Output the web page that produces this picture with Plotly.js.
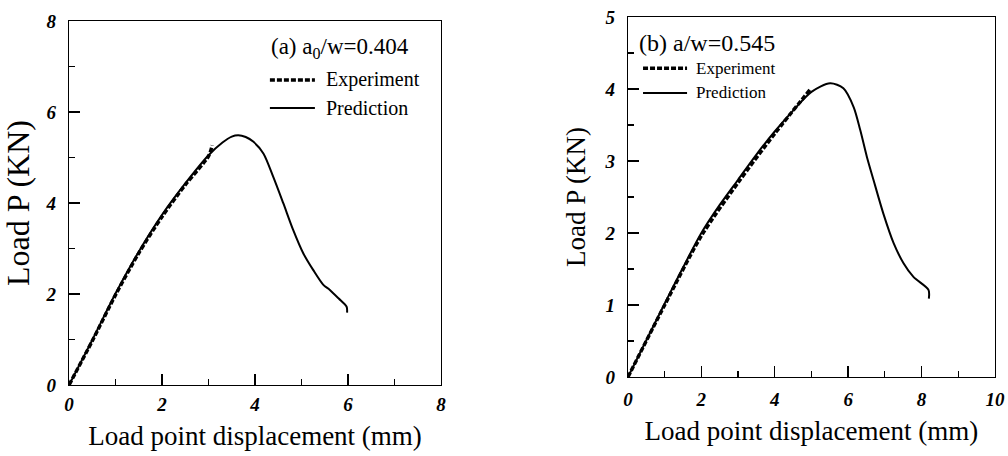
<!DOCTYPE html>
<html>
<head>
<meta charset="utf-8">
<script src="https://cdn.plot.ly/plotly-3.0.1.min.js"></script>
<style>html,body{margin:0;padding:0;background:#fff;}#chart{width:1008px;height:456px;}</style>
</head>
<body>
<div id="chart"></div>
<script>
// Panel (a) a0/w = 0.404
const predA_x = [0, 0.5, 1.0, 1.5, 2.0, 2.5, 3.0, 3.3, 3.5, 3.64, 3.8, 3.96, 4.18, 4.39, 4.61, 4.82, 5.04, 5.25, 5.47, 5.61, 5.8, 5.97, 5.98];
const predA_y = [0, 0.99, 2.01, 2.93, 3.74, 4.43, 5.05, 5.33, 5.46, 5.49, 5.45, 5.35, 5.09, 4.58, 3.99, 3.41, 2.89, 2.53, 2.20, 2.09, 1.90, 1.72, 1.59];
const expA_x = [0, 0.5, 1.0, 1.5, 2.0, 2.5, 3.0, 3.08];
const expA_y = [0, 0.97, 1.98, 2.90, 3.70, 4.40, 5.03, 5.27];

// Panel (b) a/w = 0.545
const predB_x = [0, 0.5, 1.0, 1.5, 2.0, 2.5, 3.0, 3.5, 4.0, 4.5, 5.0, 5.51, 5.87, 6.15, 6.33, 6.51, 6.69, 6.96, 7.24, 7.51, 7.78, 8.19, 8.2];
const predB_y = [0, 0.51, 1.02, 1.52, 2.0, 2.39, 2.74, 3.09, 3.41, 3.70, 3.96, 4.08, 4.01, 3.75, 3.43, 3.06, 2.74, 2.27, 1.86, 1.58, 1.39, 1.21, 1.09];
const expB_x = [0, 1.0, 2.0, 3.0, 4.0, 4.96];
const expB_y = [0, 1.0, 1.96, 2.70, 3.38, 3.99];

const xTitle = 'Load point displacement (mm)';
const yTitle = 'Load P (KN)';
const labelA = '(a) a<sub>0</sub>/w=0.404';
const labelB = '(b) a/w=0.545';
const legendNames = ['Experiment', 'Prediction'];

const serif = 'Liberation Serif, Times New Roman, serif';
const tickFont = {family: serif, size: 19, color: '#000', weight: 'bold', style: 'italic'};

const predLine = {color: '#000', width: 2, shape: 'spline', smoothing: 0.8};
const expLine = {color: '#000', width: 3.5, dash: '5px,2px', shape: 'spline', smoothing: 0.8};

const traces = [
  {x: predA_x, y: predA_y, xaxis: 'x', yaxis: 'y', mode: 'lines', line: predLine, showlegend: false},
  {x: expA_x, y: expA_y, xaxis: 'x', yaxis: 'y', mode: 'lines', line: expLine, showlegend: false},
  {x: predB_x, y: predB_y, xaxis: 'x2', yaxis: 'y2', mode: 'lines', line: predLine, showlegend: false},
  {x: expB_x, y: expB_y, xaxis: 'x2', yaxis: 'y2', mode: 'lines', line: expLine, showlegend: false}
];

function axis(domain, range, dtick, minorDtick, anchor, title, titleSize, standoff, labelStandoff) {
  return {
    domain: domain, range: range, anchor: anchor,
    showgrid: false, zeroline: false,
    showline: true, mirror: true, linecolor: '#000', linewidth: 1.3,
    ticks: 'inside', ticklen: 11, tickwidth: 1.3, tickcolor: '#000',
    dtick: dtick, tick0: 0,
    minor: {ticks: 'inside', ticklen: 6, tickwidth: 1.2, tickcolor: '#000', dtick: minorDtick, showgrid: false},
    tickfont: tickFont, ticklabelstandoff: labelStandoff,
    title: {text: title, font: {family: serif, size: titleSize, color: '#000'}, standoff: standoff},
    fixedrange: true
  };
}

const layout = {
  width: 1008, height: 456,
  margin: {l: 0, r: 0, t: 0, b: 0},
  paper_bgcolor: '#fff', plot_bgcolor: '#fff',
  showlegend: false,
  xaxis: axis([0.0685, 0.4375], [0, 8], 2, 1, 'y', xTitle, 27, 12, 2),
  yaxis: axis([0.1557, 0.9539], [0, 8], 2, 1, 'x', yTitle, 32, 8, 8),
  xaxis2: axis([0.623, 0.987], [0, 10], 2, 1, 'y2', xTitle, 27, 12, 5),
  yaxis2: axis([0.1732, 0.9627], [0, 5], 1, 0.5, 'x2', yTitle, 27, 11, 8),
  annotations: [
    {xref: 'x domain', yref: 'y domain', x: 0.537, y: 0.926, xanchor: 'left', yanchor: 'middle', text: labelA, showarrow: false, font: {family: serif, size: 23, color: '#000'}},
    {xref: 'x domain', yref: 'y domain', x: 0.685, y: 0.838, xanchor: 'left', yanchor: 'middle', text: legendNames[0], showarrow: false, font: {family: serif, size: 20, color: '#000'}},
    {xref: 'x domain', yref: 'y domain', x: 0.685, y: 0.761, xanchor: 'left', yanchor: 'middle', text: legendNames[1], showarrow: false, font: {family: serif, size: 20, color: '#000'}},
    {xref: 'x2 domain', yref: 'y2 domain', x: 0.024, y: 0.928, xanchor: 'left', yanchor: 'middle', text: labelB, showarrow: false, font: {family: serif, size: 24, color: '#000'}},
    {xref: 'x2 domain', yref: 'y2 domain', x: 0.18, y: 0.858, xanchor: 'left', yanchor: 'middle', text: legendNames[0], showarrow: false, font: {family: serif, size: 17, color: '#000'}},
    {xref: 'x2 domain', yref: 'y2 domain', x: 0.18, y: 0.789, xanchor: 'left', yanchor: 'middle', text: legendNames[1], showarrow: false, font: {family: serif, size: 17, color: '#000'}}
  ],
  shapes: [
    {type: 'line', xref: 'x domain', yref: 'y domain', x0: 0.540, x1: 0.661, y0: 0.838, y1: 0.838, line: {color: '#000', width: 3.5, dash: '5px,2px'}},
    {type: 'line', xref: 'x domain', yref: 'y domain', x0: 0.540, x1: 0.661, y0: 0.761, y1: 0.761, line: {color: '#000', width: 2}},
    {type: 'line', xref: 'x2 domain', yref: 'y2 domain', x0: 0.041, x1: 0.161, y0: 0.858, y1: 0.858, line: {color: '#000', width: 3.5, dash: '5px,2px'}},
    {type: 'line', xref: 'x2 domain', yref: 'y2 domain', x0: 0.041, x1: 0.161, y0: 0.789, y1: 0.789, line: {color: '#000', width: 2}}
  ]
};

Plotly.newPlot('chart', traces, layout, {displayModeBar: false, staticPlot: true});
</script>
</body>
</html>
